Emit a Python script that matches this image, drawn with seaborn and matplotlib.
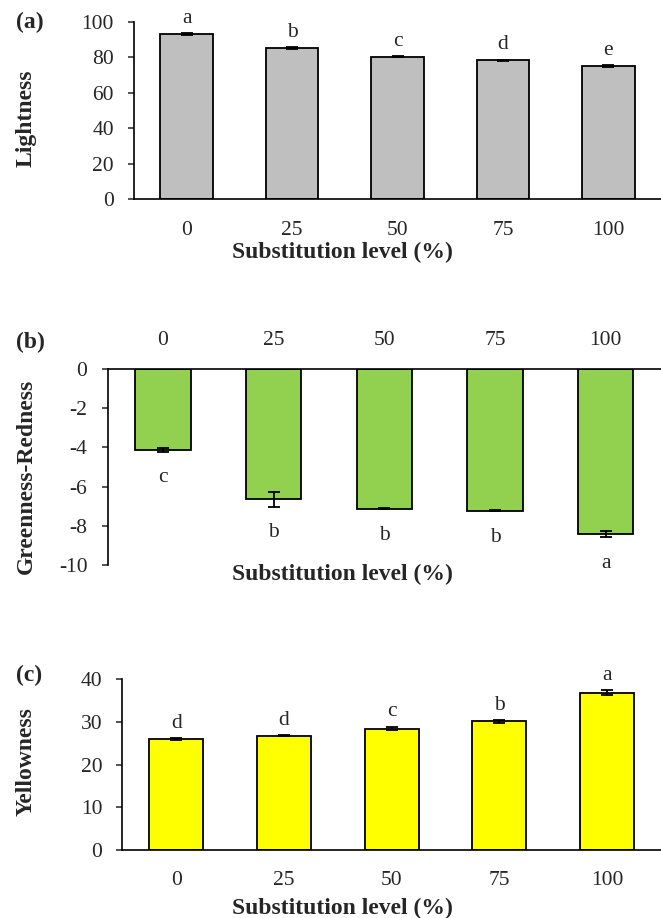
import numpy as np
import pandas as pd
import seaborn as sns
import matplotlib.pyplot as plt

# Dati
levels = ["0", "25", "50", "75", "100"]

lightness = [93.0, 85.2, 80.4, 78.4, 75.0]
lightness_err = [0.6, 0.4, 0.4, 0.3, 0.5]
lightness_letters = ["a", "b", "c", "d", "e"]

green_red = [-4.13, -6.65, -7.13, -7.24, -8.42]
green_red_err = [0.08, 0.38, 0.03, 0.03, 0.15]
green_red_letters = ["c", "b", "b", "b", "a"]

yellowness = [26.0, 26.7, 28.4, 30.1, 36.8]
yellowness_err = [0.2, 0.1, 0.4, 0.3, 0.55]
yellowness_letters = ["d", "d", "c", "b", "a"]

sns.set_style("ticks")
plt.rcParams["font.family"] = ["Liberation Serif", "DejaVu Serif"]
plt.rcParams["axes.unicode_minus"] = False

TICK_FS = 15.5
LABEL_FS = 17
W, H = 661, 918

fig = plt.figure(figsize=(W / 100, H / 100), dpi=100)


def px_axes(left, top, bottom):
    # converte coordinate in pixel in frazioni della figura
    return fig.add_axes([left / W, 1 - bottom / H, 1 - left / W, (bottom - top) / H])


def draw_panel(ax, values, errs, letters, color, ylabel, ylim, step, letters_below=False):
    df = pd.DataFrame({"level": levels, "value": values})
    sns.barplot(data=df, x="level", y="value", color=color, saturation=1,
                width=0.5, edgecolor="black", linewidth=1.3, errorbar=None, ax=ax)
    centers = [p.get_x() + p.get_width() / 2 for p in ax.patches]
    ax.errorbar(centers, values, yerr=errs, fmt="none", ecolor="black",
                elinewidth=1.3, capsize=4, capthick=1.3, zorder=5)
    for xc, v, e, lab in zip(centers, values, errs, letters):
        if letters_below:
            ax.annotate(lab, (xc, v - e), xytext=(0, -12), textcoords="offset points",
                        ha="center", va="top", fontsize=TICK_FS)
        else:
            ax.annotate(lab, (xc, v + e), xytext=(0, 7.5), textcoords="offset points",
                        ha="center", va="baseline", fontsize=TICK_FS)
    ax.set_xlim(-0.5, 4.5)
    ax.set_ylim(*ylim)
    ax.set_yticks(np.arange(ylim[0], ylim[1] + step / 2, step))
    ax.set_ylabel(ylabel, fontsize=LABEL_FS, fontweight="bold", va="center")
    ax.set_xlabel("Substitution level (%)", fontsize=LABEL_FS, fontweight="bold")
    ax.tick_params(axis="y", labelsize=TICK_FS, length=4.5, width=1.1, pad=10, direction="out")
    ax.tick_params(axis="x", labelsize=TICK_FS, length=0)
    for s in ax.spines.values():
        s.set_linewidth(1.2)
        s.set_color("black")


# (a) Lightness
ax1 = px_axes(134, 22, 199)
draw_panel(ax1, lightness, lightness_err, lightness_letters, "#BFBFBF", "Lightness", (0, 100), 20)
sns.despine(ax=ax1, top=True, right=True)
ax1.tick_params(axis="x", pad=16)
ax1.yaxis.set_label_coords(-0.204, 0.458)
ax1.xaxis.set_label_coords(0.395, -0.30)
ax1.xaxis.label.set_va("center")

# (b) Greenness-Redness
ax2 = px_axes(107.6, 369, 565)
draw_panel(ax2, green_red, green_red_err, green_red_letters, "#92D050", "Greenness-Redness",
           (-10, 0), 2, letters_below=True)
ax2.spines["bottom"].set_visible(False)
ax2.spines["right"].set_visible(False)
ax2.spines["top"].set_visible(True)
ax2.xaxis.tick_top()
ax2.tick_params(axis="x", pad=14, length=0)
ax2.yaxis.set_label_coords(-0.1475, 0.454)
ax2.xaxis.set_label_coords(0.4236, -0.048)
ax2.xaxis.label.set_va("center")

# (c) Yellowness
ax3 = px_axes(122.4, 679, 850)
draw_panel(ax3, yellowness, yellowness_err, yellowness_letters, "#FFFF00", "Yellowness", (0, 40), 10)
sns.despine(ax=ax3, top=True, right=True)
ax3.tick_params(axis="x", pad=15)
ax3.yaxis.set_label_coords(-0.179, 0.515)
ax3.xaxis.set_label_coords(0.4077, -0.34)
ax3.xaxis.label.set_va("center")

# etichette dei pannelli
for lab, ypx in [("(a)", 22), ("(b)", 342), ("(c)", 675)]:
    fig.text(16 / W, 1 - ypx / H, lab, fontsize=LABEL_FS, fontweight="bold", ha="left", va="center")

fig.savefig("out.png", dpi=100)
